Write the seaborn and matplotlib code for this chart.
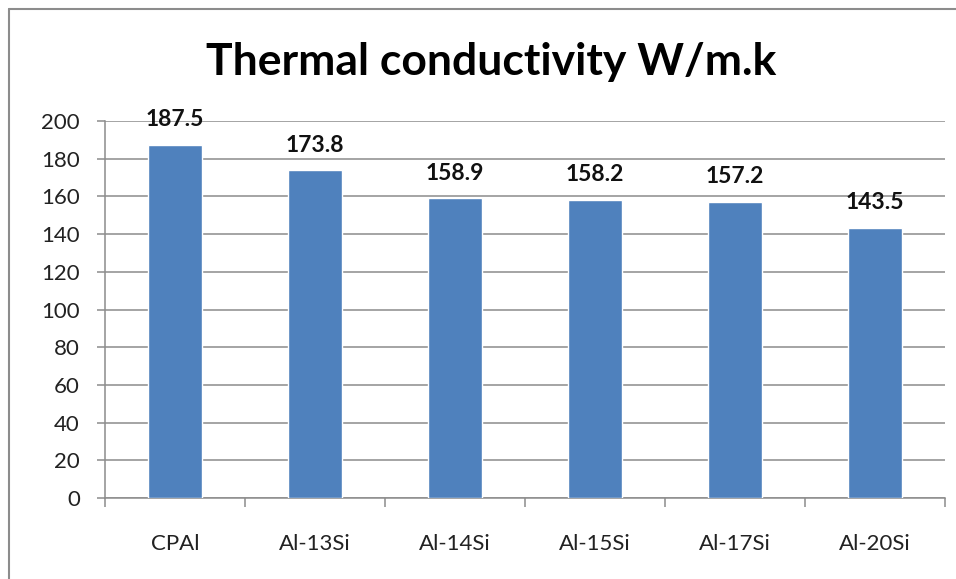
import matplotlib
matplotlib.use("Agg")
import matplotlib.pyplot as plt
import seaborn as sns
import pandas as pd
import numpy as np
from matplotlib.lines import Line2D

categories = ["CPAl", "Al-13Si", "Al-14Si", "Al-15Si", "Al-17Si", "Al-20Si"]
values = [187.5, 173.8, 158.9, 158.2, 157.2, 143.5]
title = "Thermal conductivity W/m.k"

sns.set_theme(style="white")
plt.rcParams['font.family'] = ['Lato', 'DejaVu Sans']

df = pd.DataFrame({"cat": categories, "val": values})

W, H = 956, 579
fig = plt.figure(figsize=(W / 100, H / 100), dpi=100)
ax = fig.add_axes([105 / W, 1 - 498 / H, (945 - 105) / W, (498 - 121) / H])

sns.barplot(data=df, x="cat", y="val", color="#4F81BD", width=0.39,
            saturation=1, ax=ax, zorder=3)

ax.set_ylim(0, 200)
ax.set_xlim(-0.5, len(categories) - 0.5)
ax.set_yticks(np.arange(0, 201, 20))
ax.grid(axis="y", color="#8C8C8C", linewidth=1.1, zorder=0)
ax.set_axisbelow(True)
ax.set_xlabel("")
ax.set_ylabel("")

for s in ["top", "right"]:
    ax.spines[s].set_visible(False)
for s in ["left", "bottom"]:
    ax.spines[s].set_color("#8C8C8C")
    ax.spines[s].set_linewidth(1.1)

ax.tick_params(axis="y", which="major", length=6, width=1.1, color="#8C8C8C",
               labelsize=16, labelcolor="#222222", left=True, pad=12)
ax.tick_params(axis="x", which="major", length=0, labelsize=16,
               labelcolor="#222222", pad=26)
ax.set_xticks(np.arange(-0.5, len(categories), 1.0), minor=True)
ax.tick_params(axis="x", which="minor", length=6.5, width=1.1, color="#8C8C8C",
               bottom=True)

for i, v in enumerate(values):
    ax.annotate(f"{v:.1f}", (i, v), xytext=(0, 10.5), textcoords="offset points",
                ha="center", va="bottom", fontsize=16.5, fontweight="bold",
                color="#111111")

fig.text(491 / W, 1 - 62 / H, title, ha="center", va="center",
         fontsize=32, fontweight="bold", color="black")

# outer chart border (left and top visible)
fig.add_artist(Line2D([9 / W, 9 / W], [0, 1 - 9 / H], transform=fig.transFigure,
                      color="#8C8C8C", linewidth=1.5))
fig.add_artist(Line2D([9 / W, 1], [1 - 9 / H, 1 - 9 / H], transform=fig.transFigure,
                      color="#8C8C8C", linewidth=1.5))

fig.savefig("out.png", dpi=100, facecolor="white")
